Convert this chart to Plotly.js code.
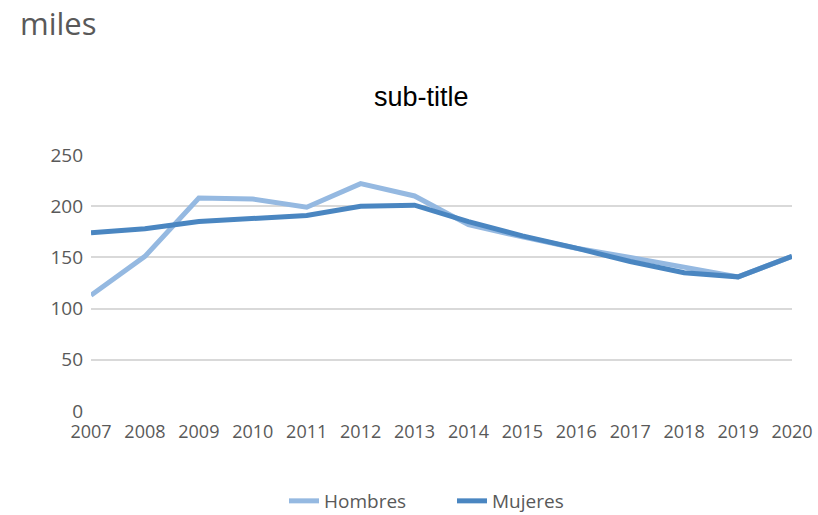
<!DOCTYPE html>
<html>
<head>
<meta charset="utf-8">
<script src="https://cdn.plot.ly/plotly-3.0.1.min.js"></script>
<style>html,body{margin:0;padding:0;background:#fff;}#chart{width:818px;height:515px;}</style>
</head>
<body>
<div id="chart"></div>
<script>
const years = [2007, 2008, 2009, 2010, 2011, 2012, 2013, 2014, 2015, 2016, 2017, 2018, 2019, 2020];
const hombres = [113, 151, 208, 207, 199, 222, 210, 182, 170, 159, 150, 140, 131, 151];
const mujeres = [174, 178, 185, 188, 191, 200, 201, 185, 171, 159, 146, 135, 131, 151];
const yTicks = [0, 50, 100, 150, 200, 250];

const traces = [
  {x: years, y: hombres, name: 'Hombres', type: 'scatter', mode: 'lines',
   line: {color: '#95b9e1', width: 5}},
  {x: years, y: mujeres, name: 'Mujeres', type: 'scatter', mode: 'lines',
   line: {color: '#4a86c1', width: 5}}
];

const layout = {
  width: 818, height: 515,
  margin: {l: 91, r: 26, t: 155, b: 104, autoexpand: false},
  paper_bgcolor: '#fff', plot_bgcolor: '#fff',
  font: {family: 'Open Sans, sans-serif', color: '#595959', size: 18},
  title: {text: 'miles', xref: 'container', yref: 'container', x: 20/818, xanchor: 'left',
          y: 1 - 24/515, yanchor: 'middle', font: {size: 31, color: '#595959', family: 'Open Sans, sans-serif'}},
  showlegend: true,
  legend: {orientation: 'h', xref: 'container', yref: 'container', x: 452/818, xanchor: 'center',
           y: 14/515, yanchor: 'middle', entrywidth: 123, entrywidthmode: 'pixels',
           font: {size: 19, color: '#595959'}},
  xaxis: {range: [2007, 2020], tickvals: years, ticktext: years.map(String),
          showgrid: false, zeroline: false, showline: false, ticks: '', automargin: false,
          ticklabelstandoff: 8, tickfont: {size: 18, color: '#595959'}},
  yaxis: {range: [0, 250], tickvals: yTicks, showgrid: true, gridcolor: '#d9d9d9', gridwidth: 2,
          zeroline: false, showline: false, ticks: '', automargin: false,
          ticklabelstandoff: 7, tickfont: {size: 19, color: '#595959'}},
  annotations: [
    {text: 'sub-title', xref: 'paper', yref: 'paper', x: (421 - 91) / 701, y: 1, xanchor: 'center', yanchor: 'middle',
     yshift: 58, showarrow: false, font: {size: 27, color: '#000', family: 'Liberation Sans, Arial, sans-serif'}}
  ]
};

Plotly.newPlot('chart', traces, layout, {displayModeBar: false, staticPlot: true});
</script>
</body>
</html>
